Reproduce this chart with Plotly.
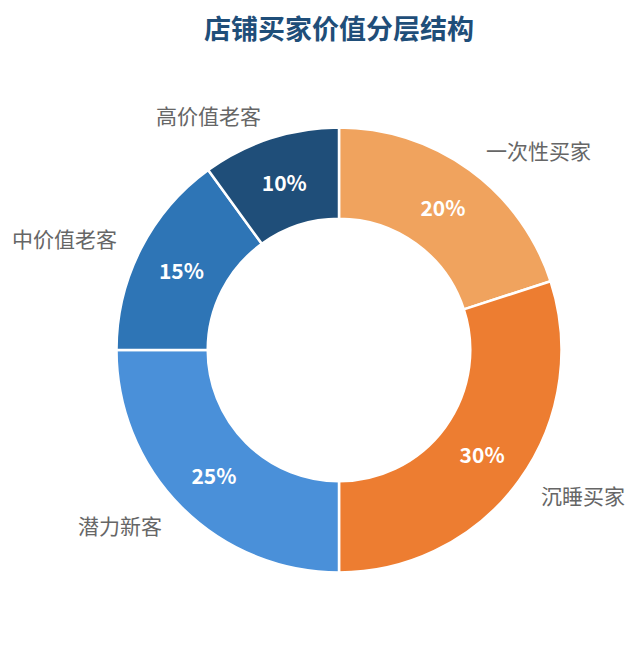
"""Donut chart: store buyer value segmentation."""

import math

import plotly.graph_objects as go

# Data
segments = ["一次性买家", "沉睡买家", "潜力新客", "中价值老客", "高价值老客"]
shares = [20, 30, 25, 15, 10]
colors = ["#F0A35E", "#ED7D31", "#4A90D9", "#2E75B6", "#1F4E79"]

# page body has an 8px margin, so the figure is shrunk and offset by that
PAD = 8
W, H = 637 - 2 * PAD, 645 - 2 * PAD
cx, cy, radius = 339 - PAD, 350 - PAD, 222.5  # pie centre / radius in px
label_r = 247

fig = go.Figure()
fig.add_trace(
    go.Pie(
        labels=segments,
        values=shares,
        hole=0.59,
        sort=False,
        direction="clockwise",
        rotation=0,
        marker=dict(colors=colors, line=dict(color="white", width=2.5)),
        texttemplate="%{value}%",
        textposition="inside",
        insidetextorientation="horizontal",
        textfont=dict(family="Noto Sans CJK SC", size=21, color="white", weight="bold"),
        hoverinfo="label+percent",
        showlegend=False,
        domain=dict(
            x=[(cx - radius) / W, (cx + radius) / W],
            y=[1 - (cy + radius) / H, 1 - (cy - radius) / H],
        ),
    )
)

# Outer category labels at each slice's mid angle
total = sum(shares)
acc = 0
for name, v in zip(segments, shares):
    mid = (acc + v / 2) / total * 2 * math.pi
    acc += v
    px = cx + label_r * math.sin(mid)
    py = cy - label_r * math.cos(mid)
    fig.add_annotation(
        x=px / W,
        y=1 - py / H,
        xref="paper",
        yref="paper",
        text=name,
        showarrow=False,
        xanchor="left" if math.sin(mid) >= 0 else "right",
        yanchor="middle",
        font=dict(family="Noto Sans CJK SC", size=21, color="#666666"),
    )

fig.update_layout(
    width=W,
    height=H,
    margin=dict(l=0, r=0, t=0, b=0),
    paper_bgcolor="white",
    plot_bgcolor="white",
    title=dict(
        text="<b>店铺买家价值分层结构</b>",
        x=cx / W,
        xanchor="center",
        y=1 - (30 - PAD) / H,
        yanchor="middle",
        font=dict(family="Noto Sans CJK SC", size=27, color="#1F4E79"),
    ),
)

fig.write_html("out.html")
